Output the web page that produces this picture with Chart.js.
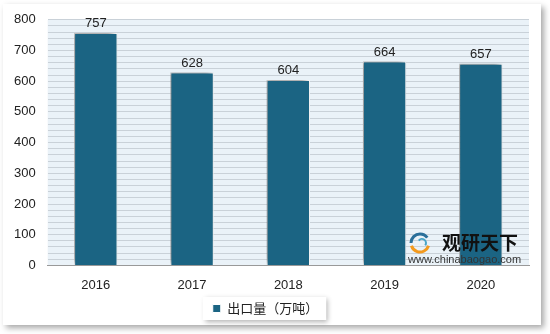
<!DOCTYPE html>
<html>
<head>
<meta charset="utf-8">
<script src="https://cdn.jsdelivr.net/npm/chart.js@4/dist/chart.umd.min.js"></script>
<style>
  html, body { margin: 0; padding: 0; background: #ffffff; }
  #wrap { width: 550px; height: 334px; }
</style>
</head>
<body>
<div id="wrap"><canvas id="myChart" width="550" height="334"></canvas></div>
<script>
var years = ["2016", "2017", "2018", "2019", "2020"];
var exportValues = [757, 628, 604, 664, 657];
var seriesName = "出口量（万吨）";

var FONT = "'Liberation Sans', Arial, 'Noto Sans CJK SC', sans-serif";

// frame, plot background, legend box
var backgroundPlugin = {
    id: "backgroundPlugin",
    beforeDraw: function (chart) {
        var ctx = chart.ctx;
        var area = chart.chartArea;
        ctx.save();
        ctx.shadowColor = "rgba(0,0,0,0.35)";
        ctx.shadowBlur = 6;
        ctx.shadowOffsetX = 3;
        ctx.shadowOffsetY = 3;
        ctx.fillStyle = "#ffffff";
        ctx.fillRect(3, 4, 538, 321);
        ctx.restore();

        ctx.save();
        ctx.fillStyle = "#eaf2f8";
        ctx.fillRect(area.left, area.top, area.right - area.left, area.bottom - area.top);
        ctx.restore();

        // legend box with shadow
        var lg = chart.legend;
        if (lg && lg.legendHitBoxes && lg.legendHitBoxes.length) {
            var hb = lg.legendHitBoxes[0];
            ctx.save();
            ctx.shadowColor = "rgba(0,0,0,0.3)";
            ctx.shadowBlur = 5;
            ctx.shadowOffsetX = 2;
            ctx.shadowOffsetY = 2;
            ctx.fillStyle = "#ffffff";
            ctx.fillRect(hb.left - 10, hb.top - 5, hb.width + 18, hb.height + 10);
            ctx.restore();
        }
    },
    beforeDatasetsDraw: function (chart) {
        var ctx = chart.ctx;
        ctx.save();
        ctx.shadowColor = "rgba(0,0,0,0.45)";
        ctx.shadowBlur = 6;
        ctx.shadowOffsetX = -3;
        ctx.shadowOffsetY = -2;
    },
    afterDatasetsDraw: function (chart) {
        var ctx = chart.ctx;
        ctx.restore();
        var meta = chart.getDatasetMeta(0);
        ctx.save();
        ctx.fillStyle = "#222222";
        ctx.font = "13px " + FONT;
        ctx.textAlign = "center";
        ctx.textBaseline = "bottom";
        meta.data.forEach(function (bar, i) {
            ctx.fillText(String(exportValues[i]), bar.x, bar.y - 3);
        });
        ctx.restore();

        // watermark
        var wx = 408, wy = 233;
        ctx.save();
        ctx.lineWidth = 3;
        ctx.strokeStyle = "#2a6f9a";
        ctx.beginPath();
        ctx.arc(wx + 12, wy + 10, 9, Math.PI * 1.0, Math.PI * 1.8);
        ctx.stroke();
        ctx.strokeStyle = "#f39a1e";
        ctx.beginPath();
        ctx.arc(wx + 12, wy + 10, 9, Math.PI * 0.1, Math.PI * 0.9);
        ctx.stroke();
        ctx.strokeStyle = "#4aa5c8";
        ctx.lineWidth = 2;
        ctx.beginPath();
        ctx.arc(wx + 14, wy + 10, 4, Math.PI * 1.2, Math.PI * 2.2);
        ctx.stroke();
        ctx.fillStyle = "#111111";
        ctx.font = "bold 19px 'Noto Sans CJK SC', sans-serif";
        ctx.textBaseline = "middle";
        ctx.textAlign = "left";
        ctx.fillText("观研天下", wx + 34, wy + 10);
        ctx.fillStyle = "#333333";
        ctx.font = "11px " + FONT;
        ctx.fillText("www.chinabaogao.com", wx, wy + 27);
        ctx.restore();
    }
};

new Chart("myChart", {
    type: "bar",
    data: {
        labels: years,
        datasets: [{
            label: seriesName,
            data: exportValues,
            backgroundColor: "#1b6483",
            borderColor: "#ffffff",
            borderWidth: 1,
            categoryPercentage: 1,
            barPercentage: 0.45
        }]
    },
    plugins: [backgroundPlugin],
    options: {
        responsive: false,
        animation: false,
        layout: {
            padding: { left: 2, right: 21, top: 12, bottom: 9 }
        },
        plugins: {
            tooltip: { enabled: false },
            legend: {
                position: "bottom",
                labels: {
                    boxWidth: 8,
                    boxHeight: 8,
                    color: "#222222",
                    font: { size: 13, family: "'Noto Sans CJK SC', sans-serif" },
                    padding: 5
                }
            }
        },
        scales: {
            x: {
                grid: { display: false },
                border: { display: true, color: "#999999" },
                ticks: {
                    color: "#222222",
                    font: { size: 13, family: FONT },
                    padding: 4
                }
            },
            y: {
                min: 0,
                max: 800,
                border: { display: false },
                grid: {
                    color: function (c) {
                        return c.tick && c.tick.value === 0 ? "#999999" : "#c9d1d8";
                    },
                    drawTicks: false
                },
                ticks: {
                    stepSize: 20,
                    autoSkip: false,
                    color: "#222222",
                    font: { size: 13, family: FONT },
                    padding: 12,
                    callback: function (v) {
                        return v % 100 === 0 ? v : "";
                    }
                }
            }
        }
    }
});
</script>
</body>
</html>
